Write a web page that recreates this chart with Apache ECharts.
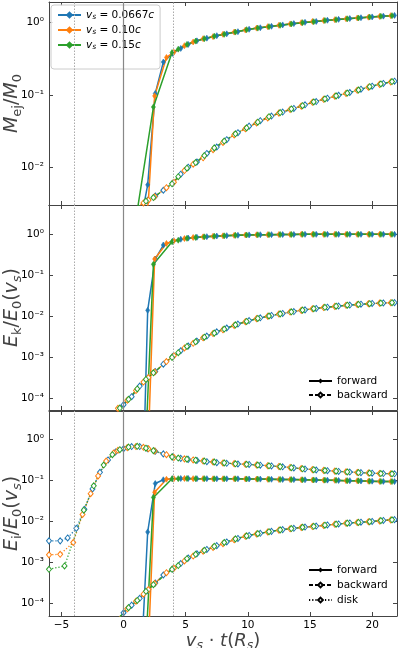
<!DOCTYPE html>
<html><head><meta charset="utf-8">
<script src="https://cdn.jsdelivr.net/npm/echarts@6/dist/echarts.min.js"></script>
<style>html,body{margin:0;padding:0;background:#fff}#c{width:400px;height:648px}</style>
</head><body><div id="c"></div>
<script>
// ---- sample times (x = v_s * t / R_s) for each shock velocity ----
const tB = [-6.0,-5.1,-4.5,-3.8,-3.15,-2.5,-1.9,-1.25,-0.65,0.0,0.65,1.3,1.94,2.55,3.2,3.95,4.6,5.2,5.9,6.7,7.5,8.3,9.2,10.1,11.0,11.9,12.8,13.7,14.6,15.5,16.4,17.3,18.2,19.1,20.0,20.9,21.8];
const tO = [-6.0,-5.1,-4.05,-3.3,-2.65,-2.05,-1.4,-0.8,-0.45,0.3,1.0,1.6,2.0,2.5,3.45,4.05,4.9,5.6,6.4,7.2,8.0,8.9,9.8,10.7,11.6,12.5,13.4,14.3,15.2,16.1,17.0,17.9,18.8,19.7,20.6,21.5];
const tG = [-6.0,-4.75,-3.2,-2.4,-1.6,-0.9,-0.3,0.4,1.1,1.8,2.4,3.9,4.4,5.1,5.8,6.5,7.3,8.1,9.0,9.9,10.8,11.7,12.6,13.5,14.4,15.3,16.2,17.1,18.0,18.9,19.8,20.7,21.6];
// values are aligned to the END of their time array (null = no sample)

// ---- panel 1: M_ej / M_0 ----
const mejFwdB = [0.0015,0.0057,0.105,0.285,0.375,0.44,0.50,0.56,0.61,0.66,0.70,0.75,0.81,0.85,0.89,0.93,0.97,1.01,1.04,1.08,1.11,1.14,1.17,1.20,1.23,1.26];
const mejBwdB = [0.0018,0.0024,0.0029,0.0035,0.0040,0.0048,0.0060,0.0080,0.0100,0.0118,0.0155,0.019,0.024,0.030,0.037,0.044,0.051,0.058,0.065,0.073,0.081,0.090,0.099,0.108,0.120,0.132,0.144,0.155];
const mejFwdO = [0.0009,0.0035,0.097,0.33,0.39,0.48,0.54,0.60,0.64,0.69,0.74,0.79,0.84,0.88,0.92,0.96,1.00,1.04,1.07,1.10,1.13,1.16,1.19,1.22,1.25];
const mejBwdO = [0.002,0.0027,0.0032,0.0035,0.0039,0.0052,0.0062,0.0090,0.0110,0.0135,0.0175,0.022,0.028,0.034,0.041,0.048,0.056,0.063,0.070,0.079,0.087,0.096,0.105,0.116,0.128,0.140,0.151];
const mejFwdG = [0.0025,null,0.068,0.385,0.43,0.50,0.555,0.60,0.65,0.69,0.74,0.80,0.84,0.88,0.92,0.96,1.00,1.03,1.07,1.10,1.13,1.16,1.195,1.225,1.25];
const mejBwdG = [0.0016,0.0021,0.0028,0.0034,0.0038,0.0059,0.0074,0.0097,0.0116,0.0145,0.0185,0.023,0.029,0.035,0.042,0.050,0.057,0.064,0.071,0.080,0.088,0.097,0.106,0.117,0.130,0.142,0.153];

// ---- panel 2: E_k / E_0(v_s) ----
const ekFwdB = [1e-9,0.014,0.25,0.55,0.68,0.76,0.81,0.85,0.88,0.91,0.93,0.95,0.97,0.98,0.985,0.99,0.995,1.0,1.0,1.0,1.0,1.0,1.0,1.0,1.0,1.0];
const ekBwdB = [4.3e-5,7.0e-5,1.1e-4,2.0e-4,3.1e-4,4.5e-4,6.8e-4,1.05e-3,1.45e-3,1.9e-3,2.5e-3,3.3e-3,4.2e-3,5.2e-3,6.5e-3,7.9e-3,9.2e-3,0.0105,0.0118,0.0131,0.0144,0.0156,0.0167,0.0178,0.0189,0.0198,0.0206,0.0212,0.0216];
const ekFwdO = [1e-5,0.25,0.60,0.70,0.79,0.84,0.87,0.90,0.92,0.945,0.965,0.975,0.985,0.99,0.995,1.0,1.0,1.0,1.0,1.0,1.0,1.0,1.0,1.0];
const ekBwdO = [3.5e-5,5.7e-5,9.0e-5,1.55e-4,2.5e-4,3.2e-4,4.4e-4,7.9e-4,1.1e-3,1.7e-3,2.2e-3,3.0e-3,3.8e-3,4.7e-3,6.0e-3,7.4e-3,8.8e-3,0.0101,0.0114,0.0127,0.0140,0.0153,0.0164,0.0175,0.0186,0.0195,0.0203,0.0210,0.0215];
const ekFwdG = [1e-5,0.186,0.66,0.72,0.80,0.84,0.87,0.90,0.92,0.945,0.965,0.975,0.985,0.99,0.995,1.0,1.0,1.0,1.0,1.0,1.0,1.0,1.0,1.0];
const ekBwdG = [3.3e-5,5.8e-5,9.5e-5,1.7e-4,2.9e-4,4.2e-4,1.0e-3,1.3e-3,1.85e-3,2.4e-3,3.1e-3,3.9e-3,4.9e-3,6.2e-3,7.5e-3,8.9e-3,0.0102,0.0115,0.0129,0.0142,0.0154,0.0166,0.0177,0.0187,0.0196,0.0204,0.0211,0.0215];

// ---- panel 3: E_i / E_0(v_s) ----
const eiFwdB = [8e-7,5.6e-3,0.085,0.105,0.112,0.113,0.113,0.112,0.112,0.111,0.111,0.111,0.110,0.109,0.108,0.107,0.106,0.105,0.104,0.103,0.101,0.100,0.098,0.097,0.096,0.095];
const eiBwdB = [3.5e-5,6.0e-5,9.2e-5,1.35e-4,2.1e-4,3.2e-4,5.0e-4,7.0e-4,9.5e-4,1.3e-3,1.65e-3,2.1e-3,2.6e-3,3.2e-3,3.9e-3,4.6e-3,5.2e-3,5.8e-3,6.4e-3,6.9e-3,7.4e-3,7.8e-3,8.3e-3,8.8e-3,9.3e-3,9.7e-3,0.0101,0.0107,0.0112];
const eiDiskB = [3.4e-3,3.4e-3,4.0e-3,6.9e-3,0.020,0.063,0.16,0.32,0.50,0.60,0.68,0.68,0.60,0.52,0.45,0.38,0.35,0.33,0.31,0.29,0.275,0.265,0.255,0.248,0.238,0.228,0.218,0.205,0.192,0.182,0.175,0.168,0.162,0.157,0.152,0.149,0.147];
const eiFwdO = [1e-5,0.052,0.108,0.112,0.113,0.112,0.112,0.111,0.111,0.111,0.110,0.109,0.108,0.107,0.106,0.105,0.104,0.103,0.102,0.100,0.099,0.097,0.096,0.095];
const eiBwdO = [4.3e-5,7.5e-5,1.15e-4,1.7e-4,2.2e-4,3.1e-4,5.7e-4,7.3e-4,1.1e-3,1.45e-3,1.9e-3,2.35e-3,2.9e-3,3.6e-3,4.4e-3,5.0e-3,5.6e-3,6.2e-3,6.7e-3,7.2e-3,7.6e-3,8.1e-3,8.6e-3,9.1e-3,9.5e-3,9.9e-3,0.0104,0.0110];
const eiDiskO = [1.55e-3,1.6e-3,3.1e-3,0.015,0.048,0.13,0.30,0.47,0.55,0.64,0.68,0.65,0.60,0.53,0.43,0.37,0.34,0.32,0.30,0.285,0.27,0.26,0.25,0.242,0.232,0.222,0.21,0.197,0.186,0.178,0.171,0.164,0.159,0.154,0.150,0.147];
const eiFwdG = [1e-5,0.039,0.111,0.112,0.113,0.112,0.112,0.111,0.111,0.111,0.110,0.109,0.108,0.107,0.106,0.105,0.104,0.103,0.102,0.100,0.099,0.097,0.096,0.095];
const eiBwdG = [4.8e-5,8.0e-5,1.2e-4,2.0e-4,2.9e-4,6.9e-4,8.5e-4,1.25e-3,1.6e-3,2.0e-3,2.5e-3,3.1e-3,3.8e-3,4.5e-3,5.1e-3,5.7e-3,6.3e-3,6.8e-3,7.3e-3,7.7e-3,8.2e-3,8.7e-3,9.2e-3,9.6e-3,0.0100,0.0106,0.0111];
const eiDiskG = [6.9e-4,8.3e-4,0.019,0.075,0.24,0.43,0.57,0.66,0.69,0.62,0.54,0.38,0.355,0.335,0.315,0.30,0.285,0.27,0.258,0.25,0.24,0.23,0.22,0.207,0.195,0.185,0.177,0.17,0.163,0.158,0.153,0.149,0.147];

const velocityLabels = ['0.0667', '0.10', '0.15'];
const xTicks = [-5, 0, 5, 10, 15, 20];
const xRange = [-6, 22];
const yRanges = [[0.003, 1.93], [5.2e-5, 5.2], [5.0e-5, 5.0]];
const vLines = [-4, 0, 4];

// ---------------------------------------------------------------
const FONT = 'DejaVu Sans';
const COL = {b: '#1f77b4', o: '#ff7f0e', g: '#2ca02c'};
const TIMES = {b: tB, o: tO, g: tG};
const pairs = (t, v) => { const off = t.length - v.length; return v.map((y, i) => [t[off + i], y]).filter(p => p[1] !== null); };

const LS = {
  fwd: {type: 'solid', width: 1.5},
  bwd: {type: [4, 2], width: 1.3},
  disk: {type: [1.2, 2], width: 1.3}
};
function mkSeries(name, grid, c, vals, kind) {
  const color = COL[c];
  const open = kind !== 'fwd';
  return {
    name: name, type: 'line', xAxisIndex: grid * 2, yAxisIndex: grid * 2,
    data: pairs(TIMES[c], vals), symbol: 'diamond',
    symbolSize: open ? [5, 6] : [4, 6], showSymbol: true, showAllSymbol: true,
    lineStyle: {color: color, width: LS[kind].width, type: LS[kind].type},
    itemStyle: open ? {color: '#fff', borderColor: color, borderWidth: 1} : {color: color, borderColor: color, borderWidth: 0.6},
    silent: true, animation: false, clip: true
  };
}
const panelDefs = [
  [['vsA','b',mejFwdB,'fwd'],['','b',mejBwdB,'bwd'],['vsB','o',mejFwdO,'fwd'],['','o',mejBwdO,'bwd'],['vsC','g',mejFwdG,'fwd'],['','g',mejBwdG,'bwd']],
  [['','b',ekFwdB,'fwd'],['','b',ekBwdB,'bwd'],['','o',ekFwdO,'fwd'],['','o',ekBwdO,'bwd'],['','g',ekFwdG,'fwd'],['','g',ekBwdG,'bwd']],
  [['','b',eiFwdB,'fwd'],['','b',eiBwdB,'bwd'],['','b',eiDiskB,'disk'],['','o',eiFwdO,'fwd'],['','o',eiBwdO,'bwd'],['','o',eiDiskO,'disk'],['','g',eiFwdG,'fwd'],['','g',eiBwdG,'bwd'],['','g',eiDiskG,'disk']]
];
const series = [];
panelDefs.forEach((defs, g) => {
  defs.forEach((d, k) => {
    const s = mkSeries(d[0] || ('p' + g + '_' + k), g, d[1], d[2], d[3]);
    if (k === 0) {
      s.markLine = {
        silent: true, symbol: ['none', 'none'], label: {show: false}, animation: false,
        data: vLines.map(v => ({xAxis: v, lineStyle: v === 0 ? {color: '#888', type: 'solid', width: 1.2} : {color: '#aaa', type: [1.5, 1.5], width: 1}}))
      };
    }
    series.push(s);
  });
});
// black legend proxies
[['forward','fwd'],['backward','bwd'],['disk','disk']].forEach(([n, kind]) => {
  const open = kind !== 'fwd';
  series.push({
    name: n, type: 'line', xAxisIndex: 2, yAxisIndex: 2, data: [], symbol: 'diamond',
    symbolSize: [5, 6],
    lineStyle: {color: '#000', width: LS[kind].width, type: LS[kind].type},
    itemStyle: open ? {color: '#fff', borderColor: '#000', borderWidth: 1} : {color: '#000'},
    animation: false
  });
});

const SUP = {'0':'⁰','1':'¹','2':'²','3':'³','4':'⁴','5':'⁵','6':'⁶','7':'⁷','8':'⁸','9':'⁹','-':'⁻'};
function logFmt(v) {
  const e = Math.log10(v), r = Math.round(e);
  if (Math.abs(e - r) > 1e-6) return '';
  return '10' + String(r).split('').map(ch => SUP[ch]).join('');
}
function xFmt(v) {
  return xTicks.indexOf(Math.round(v * 1000) / 1000) >= 0 ? String(v).replace('-', '\u2212') : '';
}

const gridTops = [2, 205, 411];
const gridHeights = [203, 205, 205];
const grids = gridTops.map((t, i) => ({left: 49, right: 3, top: t, height: gridHeights[i], outerBoundsMode: 'none', containLabel: false}));

const axisLine = {show: true, onZero: false, lineStyle: {color: '#444', width: 1}};
const axisTick = {show: true, inside: true, length: 4, lineStyle: {color: '#444', width: 1}};

const xAxes = [], yAxes = [];
const nameRich = {
  i: {fontFamily: FONT, fontStyle: 'italic', fontSize: 19, lineHeight: 24, verticalAlign: 'middle'},
  n: {fontFamily: FONT, fontSize: 19, lineHeight: 24, verticalAlign: 'middle'},
  sb: {fontFamily: FONT, fontSize: 13, lineHeight: 13, verticalAlign: 'bottom'},
  si: {fontFamily: FONT, fontStyle: 'italic', fontSize: 13, lineHeight: 13, verticalAlign: 'bottom'}
};
const yNames = [
  '{i|M}{sb|ej}{n|/}{i|M}{sb|0}',
  '{i|E}{sb|k}{n|/}{i|E}{sb|0}{n|(}{i|v}{si|s}{n|)}',
  '{i|E}{sb|i}{n|/}{i|E}{sb|0}{n|(}{i|v}{si|s}{n|)}'
];
for (let g = 0; g < 3; g++) {
  const last = g === 2;
  xAxes.push({
    type: 'value', gridIndex: g, position: 'bottom', min: xRange[0], max: xRange[1],
    axisLine, axisTick, splitLine: {show: false},
    axisLabel: {show: last, formatter: xFmt, fontFamily: FONT, fontSize: 10.5, color: '#000', margin: 4, showMinLabel: false, showMaxLabel: false},
    name: last ? '{i|v}{si|s}{n| · }{i|t}{n|(}{i|R}{si|s}{n|)}' : '',
    nameLocation: 'middle', nameGap: 10,
    nameTextStyle: {rich: {
      i: {fontFamily: FONT, fontStyle: 'italic', fontSize: 18, lineHeight: 22, verticalAlign: 'middle'},
      n: {fontFamily: FONT, fontSize: 18, lineHeight: 22, verticalAlign: 'middle'},
      si: {fontFamily: FONT, fontStyle: 'italic', fontSize: 12.5, lineHeight: 12, verticalAlign: 'bottom'}
    }}
  });
  xAxes.push({
    type: 'value', gridIndex: g, position: 'top', min: xRange[0], max: xRange[1],
    axisLine, axisTick, splitLine: {show: false}, axisLabel: {show: false}
  });
  const yr = yRanges[g];
  yAxes.push({
    type: 'log', logBase: 10, gridIndex: g, position: 'left', min: yr[0], max: yr[1],
    axisLine, axisTick, splitLine: {show: false},
    axisLabel: {formatter: logFmt, fontFamily: FONT, fontSize: 10.5, color: '#000', margin: 5, showMinLabel: false, showMaxLabel: false},
    name: yNames[g], nameLocation: 'middle', nameRotate: 90, nameGap: 25, nameMoveOverlap: false,
    nameTextStyle: {rich: nameRich}
  });
  yAxes.push({
    type: 'log', logBase: 10, gridIndex: g, position: 'right', min: yr[0], max: yr[1],
    axisLine, axisTick, splitLine: {show: false}, axisLabel: {show: false}
  });
}

const legRich = {
  i: {fontFamily: FONT, fontStyle: 'italic', fontSize: 10.5},
  n: {fontFamily: FONT, fontSize: 10.5},
  s: {fontFamily: FONT, fontStyle: 'italic', fontSize: 7.5, lineHeight: 8, verticalAlign: 'bottom'}
};
const velNames = {vsA: 0, vsB: 1, vsC: 2};

const option = {
  animation: false,
  backgroundColor: '#fff',
  grid: grids,
  xAxis: xAxes,
  yAxis: yAxes,
  legend: [
    {
      data: ['vsA', 'vsB', 'vsC'], orient: 'vertical', left: 51, top: 5,
      padding: [4, 6, 18, 6], itemWidth: 23, itemHeight: 6, itemGap: 3, selectedMode: false,
      backgroundColor: 'rgba(255,255,255,0.85)', borderColor: '#ccc', borderWidth: 1, borderRadius: 3,
      textStyle: {fontFamily: FONT, fontSize: 10.5, color: '#000', lineHeight: 12, rich: legRich},
      formatter: n => '{i|v}{s|s}{n| = ' + velocityLabels[velNames[n]] + '}{i|c}'
    },
    {
      data: ['forward', 'backward'], orient: 'vertical', left: 308, top: 375.5, padding: 0,
      itemWidth: 23, itemHeight: 6, itemGap: 3, selectedMode: false,
      textStyle: {fontFamily: FONT, fontSize: 10.5, color: '#000', lineHeight: 11}
    },
    {
      data: ['forward', 'backward', 'disk'], orient: 'vertical', left: 308, top: 564.5, padding: 0,
      itemWidth: 23, itemHeight: 6, itemGap: 4, selectedMode: false,
      textStyle: {fontFamily: FONT, fontSize: 10.5, color: '#000', lineHeight: 11}
    }
  ],
  series: series
};
const chart = echarts.init(document.getElementById('c'), null, {renderer: 'canvas'});
chart.setOption(option);
</script>
</body></html>
